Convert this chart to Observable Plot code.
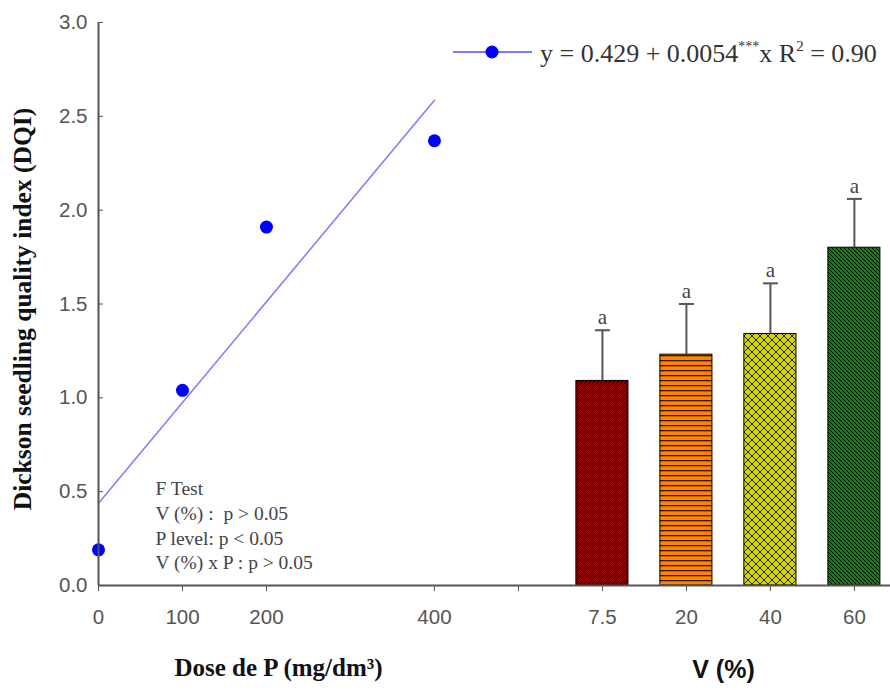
<!DOCTYPE html>
<html><head><meta charset="utf-8">
<script src="https://cdn.jsdelivr.net/npm/d3@7"></script>
<script src="https://cdn.jsdelivr.net/npm/@observablehq/plot@0.6"></script>
<style>body{margin:0;background:#fff;}</style>
</head><body><div id="chart"></div>
<script>
// ---- data ----
const doses = [0, 100, 200, 400];
const dqiByDose = [0.19, 1.04, 1.91, 2.37];
const vLevels = ["7.5", "20", "40", "60"];
const dqiByV = [1.09, 1.23, 1.34, 1.80];
const errByV = [0.27, 0.27, 0.27, 0.26];
const letterByV = ["a", "a", "a", "a"];
const yTicks = [0, 0.5, 1.0, 1.5, 2.0, 2.5, 3.0];
const fTestLines = ["F Test", "V (%) :  p > 0.05", "P level: p < 0.05", "V (%) x P : p > 0.05"];
const eqParts = {intercept: "0.429", slope: "0.0054", sig: "***", r2: "0.90"};

// ---- layout / style ----
const W = 890, H = 690, mL = 98, mR = 0, mT = 22, mB = 105;
const vSlotStart = 600, vSlotStep = 100, gapTick = 500, xMax = 943;
const barHalf = 31;
const patternUrls = ["url(#pRed)", "url(#pOrange)", "url(#pYellow)", "url(#pGreen)"];
const serif = "'Liberation Serif', 'Times New Roman', serif";
const sans = "'Liberation Sans', Arial, sans-serif";

const pts = doses.map((d, i) => ({dose: d, dqi: dqiByDose[i]}));
const vSlots = vLevels.map((v, i) => vSlotStart + i * vSlotStep);
const bars = vLevels.map((v, i) => ({v, pos: vSlots[i], dqi: dqiByV[i], err: errByV[i], letter: letterByV[i]}));
const xTicks = doses.concat([gapTick], vSlots);
const fmtX = d => doses.includes(d) ? String(d) : vSlots.includes(d) ? vLevels[vSlots.indexOf(d)] : "";
const hline = {draw(ctx, size) { const r = Math.sqrt(size / Math.PI); ctx.moveTo(-r, 0); ctx.lineTo(r, 0); }};

const svg = Plot.plot({
  width: W, height: H, marginLeft: mL, marginRight: mR, marginTop: mT, marginBottom: mB,
  style: {background: "white", fontFamily: sans, fontSize: "20.5px", overflow: "visible"},
  x: {domain: [0, xMax]},
  y: {domain: [0, 3]},
  color: {type: "ordinal", domain: vLevels, range: patternUrls},
  marks: [
    Plot.rectY(bars, {x1: d => d.pos - barHalf, x2: d => d.pos + barHalf, y1: 0, y2: "dqi", fill: "v", stroke: "#000", strokeWidth: 1}),
    Plot.ruleX(bars, {x: "pos", y1: "dqi", y2: d => d.dqi + d.err, stroke: "#555", strokeWidth: 2}),
    Plot.dot(bars, {x: "pos", y: d => d.dqi + d.err, symbol: hline, r: 7.5, stroke: "#555", strokeWidth: 2}),
    Plot.text(bars, {x: "pos", y: d => d.dqi + d.err, text: "letter", dy: -13, fontFamily: serif, fontSize: 21, fill: "#444"}),
    Plot.linearRegressionY(pts, {x: "dose", y: "dqi", ci: 0, stroke: "#7b7bff", strokeWidth: 1.5}),
    Plot.dot(pts, {x: "dose", y: "dqi", r: 6.5, fill: "#0000ff"}),
    Plot.axisY(yTicks, {tickSize: 0, tickPadding: 11, tickFormat: d3.format(".1f"), color: "#555", fontSize: 20.5, label: null}),
    Plot.tickY(yTicks, {y: d => d, insetRight: W - mL - mR - 5, stroke: "#555"}),
    Plot.axisX(xTicks, {tickSize: 6, tickPadding: 18, tickFormat: fmtX, color: "#555", fontSize: 20.5, label: null}),
    Plot.ruleX([0], {stroke: "#555", strokeWidth: 2}),
    Plot.ruleY([0], {stroke: "#555", strokeWidth: 2}),
    Plot.text(["Dickson seedling quality index (DQI)"], {frameAnchor: "left", textAnchor: "middle", dx: -76, dy: 5, rotate: -90, fontFamily: serif, fontWeight: "bold", fontSize: 25.5, fill: "#111"}),
    Plot.text(["Dose de P (mg/dm³)"], {frameAnchor: "bottom-left", textAnchor: "middle", dx: 180, dy: 90, fontFamily: serif, fontWeight: "bold", fontSize: 25, fill: "#111"}),
    Plot.text(["V (%)"], {frameAnchor: "bottom-left", textAnchor: "middle", dx: 625, dy: 92, fontFamily: sans, fontWeight: "bold", fontSize: 25, fill: "#111"}),
    Plot.text([fTestLines.join("\n")], {frameAnchor: "top-left", textAnchor: "start", lineAnchor: "top", dx: 57, dy: 455, lineHeight: 1.27, fontFamily: serif, fontSize: 19.5, fill: "#444"})
  ]
});

// patterns
const s = d3.select(svg);
const defs = s.insert("defs", ":first-child");
function pat(id, w, h, bg) {
  const p = defs.append("pattern").attr("id", id).attr("patternUnits", "userSpaceOnUse").attr("width", w).attr("height", h);
  p.append("rect").attr("width", w).attr("height", h).attr("fill", bg);
  return p;
}
pat("pRed", 4, 4, "#8a0000").append("path").attr("d", "M-1,1 l2,-2 M0,4 l4,-4 M3,5 l2,-2").attr("stroke", "#000").attr("stroke-width", 1);
pat("pOrange", 4, 5, "#ff8400").append("rect").attr("y", 0).attr("width", 4).attr("height", 1.3).attr("fill", "#3a1800");
const py = pat("pYellow", 8, 8, "#d4d400");
py.append("path").attr("d", "M0,0 L8,8 M8,0 L0,8 M-1,7 l2,2 M7,-1 l2,2 M-1,1 l2,-2 M7,9 l2,-2").attr("stroke", "#222").attr("stroke-width", 1);
pat("pGreen", 4, 4, "#008a00").append("path").attr("d", "M-1,3 l2,2 M0,0 l4,4 M3,-1 l2,2").attr("stroke", "#000").attr("stroke-width", 1);

// legend
const lg = s.append("g");
lg.append("line").attr("x1", 453).attr("x2", 532).attr("y1", 52).attr("y2", 52).attr("stroke", "#7b7bff").attr("stroke-width", 2);
lg.append("circle").attr("cx", 492).attr("cy", 52).attr("r", 6.5).attr("fill", "#0000ff");
const t = lg.append("text").attr("x", 540).attr("y", 62).attr("text-anchor", "start").attr("font-family", serif).attr("font-size", 26).attr("fill", "#333");
t.append("tspan").text(`y = ${eqParts.intercept} + ${eqParts.slope}`);
t.append("tspan").attr("dy", -11).attr("font-size", 14).text(eqParts.sig);
t.append("tspan").attr("dy", 11).text("x R");
t.append("tspan").attr("dy", -11).attr("font-size", 15).text("2");
t.append("tspan").attr("dy", 11).text(` = ${eqParts.r2}`);

document.getElementById("chart").appendChild(svg);
</script>
</body></html>
